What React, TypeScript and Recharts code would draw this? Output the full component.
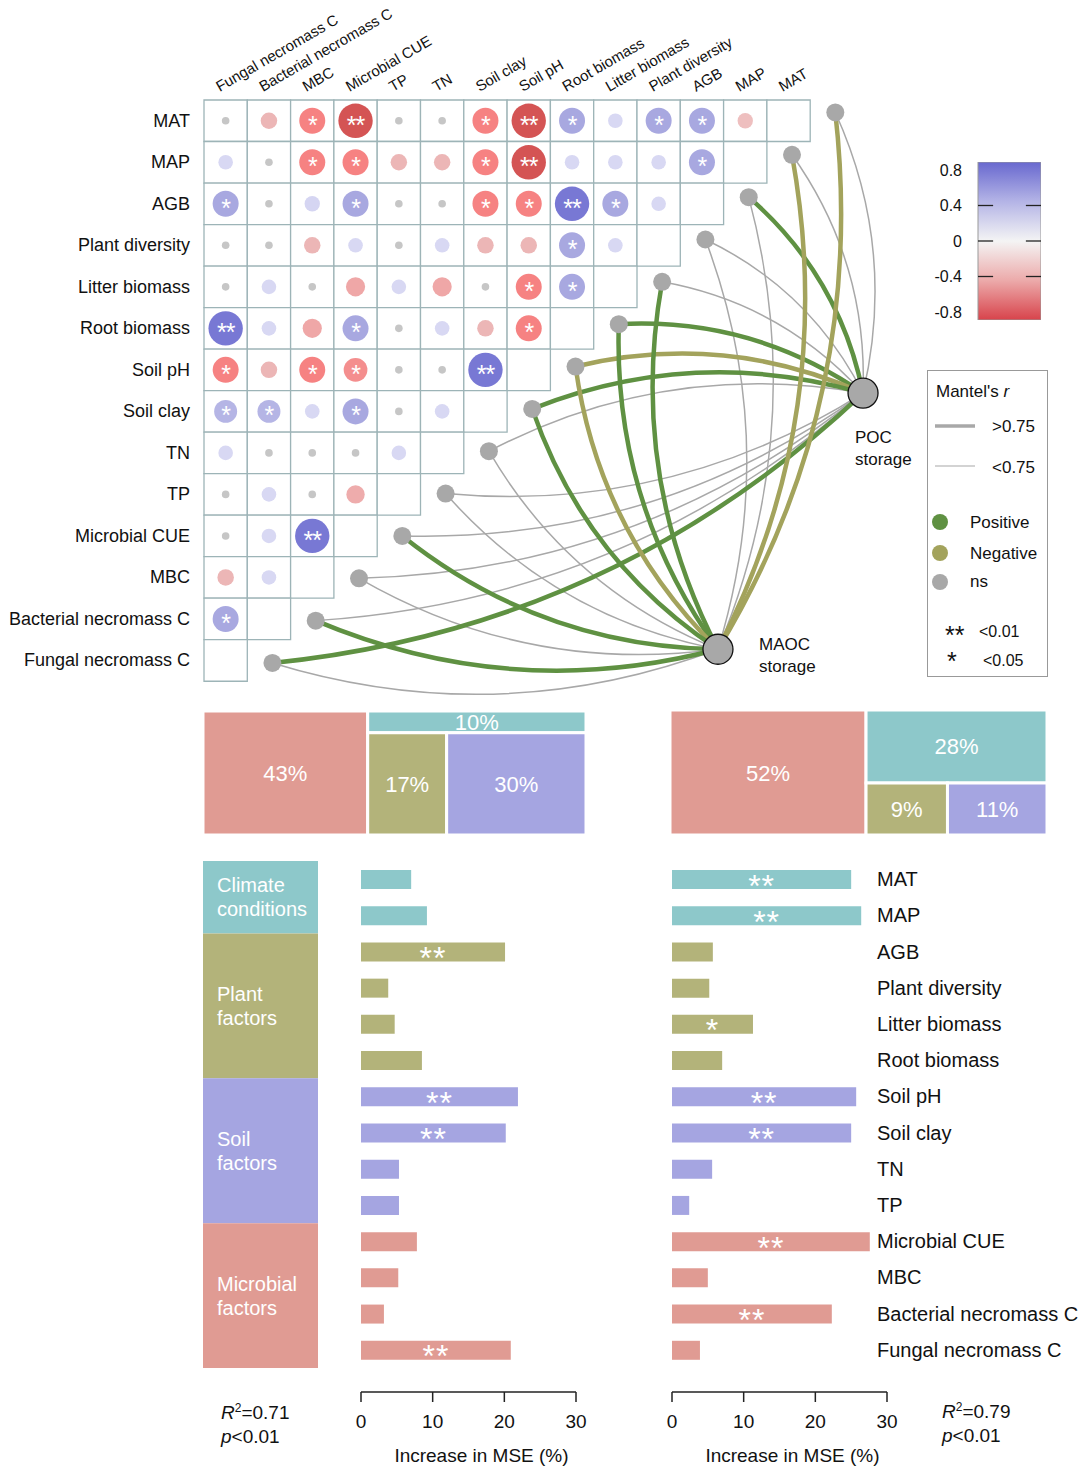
import React from "react";
import {
  ScatterChart,
  Scatter,
  XAxis,
  YAxis,
  ReferenceArea,
  ReferenceLine,
  BarChart,
  Bar,
  Cell,
  LabelList,
} from "recharts";

const FONT = '"Liberation Sans", Arial, Helvetica, sans-serif';

// ---- data ----
const variables = [
  "MAT",
  "MAP",
  "AGB",
  "Plant diversity",
  "Litter biomass",
  "Root biomass",
  "Soil pH",
  "Soil clay",
  "TN",
  "TP",
  "Microbial CUE",
  "MBC",
  "Bacterial necromass C",
  "Fungal necromass C",
];
const columns = [...variables].reverse();

// correlation of row variable with column 0..(12 - row)
const corrRows: number[][] = [
  [0.03, -0.25, -0.5, -0.72, 0.02, -0.02, -0.5, -0.72, 0.5, 0.2, 0.5, 0.5, -0.22],
  [0.2, 0.03, -0.5, -0.5, -0.25, -0.25, -0.5, -0.72, 0.2, 0.2, 0.2, 0.5],
  [0.5, 0.03, 0.22, 0.5, 0.02, 0.02, -0.5, -0.5, 0.72, 0.5, 0.2],
  [0.03, 0.03, -0.25, 0.2, 0.02, 0.2, -0.25, -0.25, 0.5, 0.2],
  [0.03, 0.2, 0.04, -0.32, 0.2, -0.32, 0.03, -0.5, 0.5],
  [0.72, 0.2, -0.32, 0.5, 0.02, 0.2, -0.25, -0.5],
  [-0.5, -0.25, -0.5, -0.44, 0.02, 0.02, 0.72],
  [0.42, 0.42, 0.2, 0.5, 0.02, 0.2],
  [0.2, 0.02, 0.02, 0.02, 0.2],
  [0.02, 0.2, 0.02, -0.3],
  [0.02, 0.2, 0.72],
  [-0.25, 0.2],
  [0.5],
  [],
];
const sigRows: string[][] = [
  ["", "", "*", "**", "", "", "*", "**", "*", "", "*", "*", ""],
  ["", "", "*", "*", "", "", "*", "**", "", "", "", "*"],
  ["*", "", "", "*", "", "", "*", "*", "**", "*", ""],
  ["", "", "", "", "", "", "", "", "*", ""],
  ["", "", "", "", "", "", "", "*", "*"],
  ["**", "", "", "*", "", "", "", "*"],
  ["*", "", "*", "*", "", "", "**"],
  ["*", "*", "", "*", "", ""],
  ["", "", "", "", ""],
  ["", "", "", ""],
  ["", "", "**"],
  ["", ""],
  ["*"],
  [],
];

// Mantel links per variable (same order as variables)
const pocType = ["ns", "ns", "pos", "ns", "ns", "pos", "neg", "pos", "ns", "ns", "ns", "ns", "ns", "pos"];
const pocClass = ["<0.75", "<0.75", ">0.75", "<0.75", "<0.75", ">0.75", ">0.75", ">0.75", "<0.75", "<0.75", "<0.75", "<0.75", "<0.75", ">0.75"];
const maocType = ["neg", "neg", "ns", "ns", "pos", "pos", "neg", "pos", "ns", "ns", "pos", "ns", "pos", "ns"];
const maocClass = [">0.75", ">0.75", "<0.75", "<0.75", ">0.75", ">0.75", ">0.75", ">0.75", "<0.75", "<0.75", ">0.75", "<0.75", ">0.75", "<0.75"];

// random forest importance (% increase in MSE)
const pocMSE = [7.0, 9.2, 20.1, 3.8, 4.7, 8.5, 21.9, 20.2, 5.3, 5.3, 7.8, 5.2, 3.2, 20.9];
const pocMSESig = ["", "", "**", "", "", "", "**", "**", "", "", "", "", "", "**"];
const maocMSE = [25.0, 26.4, 5.7, 5.2, 11.3, 7.0, 25.7, 25.0, 5.6, 2.4, 27.6, 5.0, 22.3, 3.9];
const maocMSESig = ["**", "**", "", "", "*", "", "**", "**", "", "", "**", "", "**", ""];
const groupOf = ["climate", "climate", "plant", "plant", "plant", "plant", "soil", "soil", "soil", "soil", "microbial", "microbial", "microbial", "microbial"];

const groupKeys = ["climate", "plant", "soil", "microbial"];
const groupLabels = [["Climate", "conditions"], ["Plant", "factors"], ["Soil", "factors"], ["Microbial", "factors"]];

// relative contributions (treemaps): microbial, climate, plant, soil
const pocShares = [43, 10, 17, 30];
const maocShares = [52, 28, 9, 11];

const colorbarTicks = [0.8, 0.4, 0, -0.4, -0.8];
const colorbarMarks = [0.4, 0, -0.4];

// ---- styles ----
const groupColor: Record<string, string> = {
  climate: "#8dc8ca",
  plant: "#b3b37a",
  soil: "#a5a5e1",
  microbial: "#e09b93",
};
const shareColors = [groupColor.microbial, groupColor.climate, groupColor.plant, groupColor.soil];
const linkColor: Record<string, string> = { pos: "#5f9142", neg: "#a3a35c", ns: "#a8a8a8" };
const POC = { x: 15.22, y: 7.06 };
const MAOC = { x: 11.87, y: 13.23 };
const bendSplit = { poc: 8, maoc: 3 };

const blueStops: [number, number[]][] = [[0, [255, 255, 255]], [0.2, [216, 216, 243]], [0.5, [168, 168, 224]], [0.72, [120, 120, 212]]];
const redStops: [number, number[]][] = [[0, [255, 255, 255]], [0.25, [236, 182, 182]], [0.5, [246, 130, 130]], [0.72, [212, 84, 84]]];

function corrColor(v: number) {
  const a = Math.abs(v);
  if (a < 0.08) return "#c6c6c6";
  const stops = v > 0 ? blueStops : redStops;
  for (let k = 1; k < stops.length; k++) {
    if (a <= stops[k][0] || k === stops.length - 1) {
      const [t0, c0] = stops[k - 1];
      const [t1, c1] = stops[k];
      const f = Math.min(1, (a - t0) / (t1 - t0));
      const c = c0.map((x, j) => Math.round(x + (c1[j] - x) * f));
      return `rgb(${c[0]},${c[1]},${c[2]})`;
    }
  }
  return "#ccc";
}

const cells: { x: number; y: number }[] = [];
variables.forEach((_, i) => {
  for (let j = 0; j < 14 - i; j++) cells.push({ x: j, y: i });
});

const corrPoints = corrRows.flatMap((row, i) =>
  row.map((r, j) => ({ x: j + 0.5, y: i + 0.5, r, sig: sigRows[i][j] }))
);

const nodePoints = variables.map((name, i) => ({ name, x: 14 - i + 0.58, y: i + 0.3 + 0.02 * i }));

const links = [
  ...variables.map((_, i) => ({ i, to: POC, type: pocType[i], cls: pocClass[i], sign: i <= bendSplit.poc ? 1 : -1 })),
  ...variables.map((_, i) => ({ i, to: MAOC, type: maocType[i], cls: maocClass[i], sign: i <= bendSplit.maoc ? 1 : -1 })),
].sort((a, b) => (a.type === "ns" ? 0 : 1) - (b.type === "ns" ? 0 : 1));

const rowTicks = variables.map((_, i) => i + 0.5);
const colTicks = columns.map((_, j) => j + 0.5);

function treemapRects(shares: number[]) {
  const [a, b, c, d] = shares;
  const total = a + b + c + d;
  const wA = (a / total) * 100;
  const hB = (b / (b + c + d)) * 100;
  const wC = (c / (c + d)) * (100 - wA);
  return [
    { x1: 0, x2: wA, y1: 0, y2: 100 },
    { x1: wA, x2: 100, y1: 0, y2: hB },
    { x1: wA, x2: wA + wC, y1: hB, y2: 100 },
    { x1: wA + wC, x2: 100, y1: hB, y2: 100 },
  ];
}

// ---- renderers ----
const CorrDot = (props: any) => {
  const { cx, cy, payload } = props;
  const a = Math.abs(payload.r);
  const rad = a < 0.08 ? 3.8 : 3.5 + a * 19;
  return (
    <g>
      <circle cx={cx} cy={cy} r={rad} fill={corrColor(payload.r)} />
      {payload.sig ? (
        <text x={cx} y={cy + 13} textAnchor="middle" fontSize={25} fill="#fff" fontFamily={FONT} letterSpacing={-1}>
          {payload.sig}
        </text>
      ) : null}
    </g>
  );
};

const NodeDot = (props: any) => <circle cx={props.cx} cy={props.cy} r={9} fill="#a8a8a8" />;
const TargetDot = (props: any) => (
  <circle cx={props.cx} cy={props.cy} r={15} fill="#a8a8a8" stroke="#111" strokeWidth={1.3} />
);
const NoDot = () => <g />;

const ShareLabel = (props: any) => (
  <text x={props.cx} y={props.cy + 8} textAnchor="middle" fontSize={22} fill="#fff" fontFamily={FONT}>
    {props.payload.label}
  </text>
);

const curve = (color: string, width: number, sign: number) => (p: any) => {
  const pts = p.points;
  if (!pts || pts.length < 2) return <g />;
  const [a, b] = pts;
  const dx = b.x - a.x;
  const dy = b.y - a.y;
  const k = 0.17 * sign;
  const qx = (a.x + b.x) / 2 + dy * k;
  const qy = (a.y + b.y) / 2 - dx * k;
  return (
    <path d={`M${a.x},${a.y} Q${qx},${qy} ${b.x},${b.y}`} fill="none" stroke={color} strokeWidth={width} strokeLinecap="round" />
  );
};

const RowTick = ({ x, y, payload }: any) => (
  <text x={x} y={y} dy={6} textAnchor="end" fontSize={18} fill="#111" fontFamily={FONT}>
    {variables[Math.floor(payload.value)]}
  </text>
);

const ColTick = ({ x, y, payload }: any) => {
  const tx = x - 6;
  return (
    <text x={tx} y={y} transform={`rotate(-30 ${tx} ${y})`} textAnchor="start" fontSize={15} fill="#111" fontFamily={FONT}>
      {columns[Math.floor(payload.value)]}
    </text>
  );
};

const StarLabel = (props: any) => {
  const { x, y, width, height, value } = props;
  if (!value) return null;
  return (
    <text x={x + width / 2} y={y + height / 2 + 17} textAnchor="middle" fontSize={32} fill="#fff" fontFamily={FONT} letterSpacing={1}>
      {value}
    </text>
  );
};

const RightTick = ({ x, y, payload }: any) => (
  <text x={x - 10} y={y} dy={7} textAnchor="start" fontSize={20} fill="#111" fontFamily={FONT}>
    {payload.value}
  </text>
);

const groupLabel = (lines: string[]) => (props: any) => {
  const { x, y, height } = props;
  const cy = y + height / 2;
  return (
    <text x={x + 14} y={cy - 12} fontSize={20} fill="#fff" fontFamily={FONT}>
      <tspan x={x + 14} dy={7}>{lines[0]}</tspan>
      <tspan x={x + 14} dy={24}>{lines[1]}</tspan>
    </text>
  );
};

function Treemap({ shares, left, top, width, height }: any) {
  const rects = treemapRects(shares);
  const centers = rects.map((r, k) => ({ x: (r.x1 + r.x2) / 2, y: (r.y1 + r.y2) / 2, label: `${shares[k]}%` }));
  return (
    <div style={{ position: "absolute", left, top }}>
      <ScatterChart width={width} height={height} margin={{ top: 0, right: 0, bottom: 0, left: 0 }}>
        <XAxis type="number" dataKey="x" domain={[0, 100]} hide allowDataOverflow />
        <YAxis type="number" dataKey="y" domain={[0, 100]} reversed hide allowDataOverflow />
        {rects.map((r, k) => (
          <ReferenceArea key={k} {...r} fill={shareColors[k]} fillOpacity={1} stroke="#fff" strokeWidth={3} />
        ))}
        <Scatter data={centers} shape={ShareLabel} isAnimationActive={false} />
      </ScatterChart>
    </div>
  );
}

function MseChart({ values, sigs, left, width, margin, right }: any) {
  const data = variables.map((name, i) => ({ name, v: values[i], sig: sigs[i], group: groupOf[i] }));
  return (
    <div style={{ position: "absolute", left, top: 850 }}>
      <BarChart layout="vertical" width={width} height={622} data={data} margin={margin}>
        <XAxis
          type="number"
          domain={[0, 30]}
          ticks={[0, 10, 20, 30]}
          height={80}
          tickSize={10}
          tickMargin={13}
          axisLine={{ stroke: "#222", strokeWidth: 1.5 }}
          tickLine={{ stroke: "#222", strokeWidth: 1.5 }}
          tick={{ fontSize: 19, fill: "#111", fontFamily: FONT }}
          label={{ value: "Increase in MSE (%)", position: "insideBottom", offset: 10, dx: 13, fontSize: 19, fill: "#111", fontFamily: FONT }}
        />
        <YAxis
          type="category"
          dataKey="name"
          orientation="right"
          hide={!right}
          width={199}
          padding={{ top: 0, bottom: 24 }}
          axisLine={false}
          tickLine={false}
          tickSize={0}
          tickMargin={0}
          interval={0}
          tick={RightTick}
        />
        <Bar dataKey="v" barSize={19} isAnimationActive={false}>
          {data.map((d, i) => (
            <Cell key={i} fill={groupColor[d.group]} />
          ))}
          <LabelList dataKey="sig" content={StarLabel} />
        </Bar>
      </BarChart>
    </div>
  );
}

const txt = (s: React.CSSProperties): React.CSSProperties => ({
  position: "absolute",
  fontFamily: FONT,
  color: "#111",
  whiteSpace: "nowrap",
  lineHeight: 1,
  ...s,
});

export default function App() {
  const groupCounts: any = { name: "groups" };
  groupKeys.forEach((g) => (groupCounts[g] = groupOf.filter((x) => x === g).length));

  return (
    <div style={{ position: "absolute", left: 0, top: 0, width: 1085, height: 1473, background: "#fff", overflow: "hidden" }}>
      {/* correlation heatmap + Mantel links */}
      <div style={{ position: "absolute", left: 0, top: 0 }}>
        <ScatterChart width={1085} height={705} margin={{ top: 0, right: 15, bottom: 3, left: 0 }}>
          <XAxis
            type="number"
            dataKey="x"
            orientation="top"
            domain={[0, 20]}
            ticks={colTicks}
            interval={0}
            height={100}
            axisLine={false}
            tickLine={false}
            tickSize={0}
            tickMargin={8}
            tick={ColTick}
            allowDataOverflow
          />
          <YAxis
            type="number"
            dataKey="y"
            domain={[0, 14.5]}
            reversed
            ticks={rowTicks}
            interval={0}
            width={204}
            axisLine={false}
            tickLine={false}
            tickSize={0}
            tickMargin={14}
            tick={RowTick}
            allowDataOverflow
          />
          {cells.map((c, k) => (
            <ReferenceArea
              key={k}
              x1={c.x}
              x2={c.x + 1}
              y1={c.y}
              y2={c.y + 1}
              fill="#fff"
              fillOpacity={1}
              stroke="#9db4b7"
              strokeWidth={1.3}
            />
          ))}
          <Scatter data={corrPoints} shape={CorrDot} isAnimationActive={false} />
          {links.map((l, k) => (
            <Scatter
              key={`l${k}`}
              data={[nodePoints[l.i], l.to]}
              line={curve(linkColor[l.type], l.cls === ">0.75" ? 4.5 : 1.5, l.sign)}
              shape={NoDot}
              isAnimationActive={false}
            />
          ))}
          <Scatter data={nodePoints} shape={NodeDot} isAnimationActive={false} />
          <Scatter data={[POC, MAOC]} shape={TargetDot} isAnimationActive={false} />
        </ScatterChart>
      </div>

      <div style={txt({ left: 855, top: 429, fontSize: 17 })}>POC</div>
      <div style={txt({ left: 855, top: 451, fontSize: 17 })}>storage</div>
      <div style={txt({ left: 759, top: 636, fontSize: 17 })}>MAOC</div>
      <div style={txt({ left: 759, top: 658, fontSize: 17 })}>storage</div>

      {/* colour bar */}
      <div style={{ position: "absolute", left: 930, top: 162 }}>
        <ScatterChart width={111} height={158} margin={{ top: 0, right: 0, bottom: 0, left: 0 }}>
          <defs>
            <linearGradient id="cbar" x1="0" y1="0" x2="0" y2="1">
              <stop offset="0%" stopColor="#6868cf" />
              <stop offset="25%" stopColor="#b4b4e6" />
              <stop offset="50%" stopColor="#f4f4f4" />
              <stop offset="75%" stopColor="#ecaaaa" />
              <stop offset="100%" stopColor="#d8434b" />
            </linearGradient>
          </defs>
          <XAxis type="number" dataKey="x" domain={[0, 1]} hide />
          <YAxis
            type="number"
            dataKey="y"
            domain={[-0.89, 0.89]}
            ticks={colorbarTicks}
            interval={0}
            width={48}
            axisLine={false}
            tickLine={false}
            tickSize={0}
            tickMargin={16}
            tick={{ fontSize: 16, fill: "#111", fontFamily: FONT }}
          />
          <ReferenceArea x1={0} x2={1} y1={-0.89} y2={0.89} fill="url(#cbar)" fillOpacity={1} stroke="#999" strokeWidth={1} />
          {colorbarMarks.map((v) => (
            <ReferenceLine key={`a${v}`} segment={[{ x: 0, y: v }, { x: 0.24, y: v }]} stroke="#222" strokeWidth={1.3} />
          ))}
          {colorbarMarks.map((v) => (
            <ReferenceLine key={`b${v}`} segment={[{ x: 0.76, y: v }, { x: 1, y: v }]} stroke="#222" strokeWidth={1.3} />
          ))}
          <Scatter data={colorbarTicks.map((v) => ({ x: 0.5, y: v }))} shape={NoDot} isAnimationActive={false} />
        </ScatterChart>
      </div>

      {/* Mantel legend */}
      <svg style={{ position: "absolute", left: 927, top: 370 }} width={121} height={307}>
        <rect x={0.5} y={0.5} width={120} height={306} fill="#fff" stroke="#999" />
        <g fontFamily={FONT} fontSize={17} fill="#111">
          <text x={9} y={27}>
            Mantel's <tspan fontStyle="italic">r</tspan>
          </text>
          <line x1={8} x2={48} y1={56} y2={56} stroke="#a8a8a8" strokeWidth={3.5} />
          <text x={65} y={62}>{">0.75"}</text>
          <line x1={8} x2={48} y1={96} y2={96} stroke="#a8a8a8" strokeWidth={1.2} />
          <text x={65} y={103}>{"<0.75"}</text>
          <circle cx={13} cy={152} r={8} fill={linkColor.pos} />
          <text x={43} y={158}>Positive</text>
          <circle cx={13} cy={183} r={8} fill={linkColor.neg} />
          <text x={43} y={189}>Negative</text>
          <circle cx={13} cy={212} r={8} fill={linkColor.ns} />
          <text x={43} y={217}>ns</text>
          <text x={18} y={274} fontSize={25}>**</text>
          <text x={52} y={267} fontSize={16}>{"<0.01"}</text>
          <text x={20} y={300} fontSize={25}>*</text>
          <text x={56} y={296} fontSize={16}>{"<0.05"}</text>
        </g>
      </svg>

      {/* treemaps */}
      <Treemap shares={pocShares} left={203} top={711} width={383} height={124} />
      <Treemap shares={maocShares} left={670} top={710} width={377} height={125} />

      {/* group blocks */}
      <div style={{ position: "absolute", left: 203, top: 861 }}>
        <BarChart width={115} height={507} data={[groupCounts]} margin={{ top: 0, right: 0, bottom: 0, left: 0 }} barCategoryGap={0}>
          <XAxis dataKey="name" type="category" hide />
          <YAxis type="number" domain={[0, 14]} reversed hide />
          {groupKeys.map((g, k) => (
            <Bar key={g} dataKey={g} stackId="g" fill={groupColor[g]} isAnimationActive={false}>
              <LabelList dataKey={g} content={groupLabel(groupLabels[k])} />
            </Bar>
          ))}
        </BarChart>
      </div>

      {/* importance bars */}
      <MseChart values={pocMSE} sigs={pocMSESig} left={340} width={260} margin={{ top: 11, right: 24, bottom: 0, left: 21 }} right={false} />
      <MseChart values={maocMSE} sigs={maocMSESig} left={660} width={426} margin={{ top: 11, right: 0, bottom: 0, left: 12 }} right={true} />

      <div style={txt({ left: 221, top: 1402, fontSize: 19 })}>
        <i>R</i>
        <sup style={{ fontSize: 12 }}>2</sup>=0.71
      </div>
      <div style={txt({ left: 221, top: 1427, fontSize: 19 })}>
        <i>p</i>&lt;0.01
      </div>
      <div style={txt({ left: 942, top: 1401, fontSize: 19 })}>
        <i>R</i>
        <sup style={{ fontSize: 12 }}>2</sup>=0.79
      </div>
      <div style={txt({ left: 942, top: 1426, fontSize: 19 })}>
        <i>p</i>&lt;0.01
      </div>
    </div>
  );
}
